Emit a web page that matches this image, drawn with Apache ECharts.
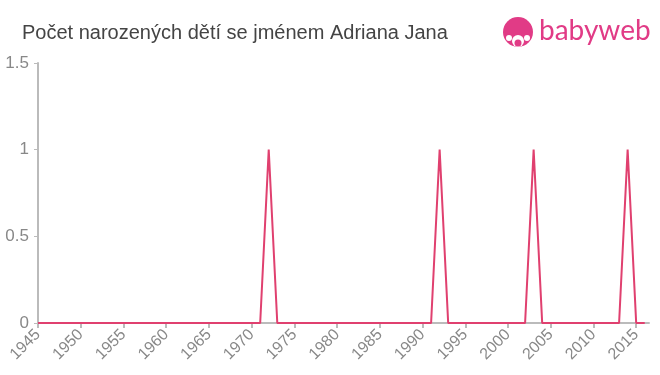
<!DOCTYPE html>
<html>
<head>
<meta charset="utf-8">
<script src="https://cdn.jsdelivr.net/npm/echarts@6/dist/echarts.min.js"></script>
<style>html,body{margin:0;padding:0;background:#fff}#c{width:660px;height:375px}</style>
</head>
<body>
<div id="c"></div>
<script>
const titleText = 'Počet narozených dětí se jménem Adriana Jana';
const years = [];
for (let y = 1945; y <= 2016; y++) years.push(y);
const peakYears = [1972, 1992, 2003, 2014];
const peakValues = [1, 1, 1, 1];
const counts = years.map(y => { const i = peakYears.indexOf(y); return i >= 0 ? peakValues[i] : 0; });
const yTicks = [0, 0.5, 1, 1.5];

const chart = echarts.init(document.getElementById('c'), null, {renderer: 'canvas'});
chart.setOption({
  animation: false,
  title: {
    text: titleText, left: 17, top: 18,
    textStyle: {fontFamily: 'Liberation Sans, Arial, sans-serif', fontSize: 20, fontWeight: 'normal', color: '#444'}
  },
  grid: {left: 38, right: 11, top: 63, bottom: 52, containLabel: false},
  xAxis: {
    type: 'value', min: 1945, max: 2016.5, interval: 5,
    axisLine: {lineStyle: {color: '#bbb', width: 2}},
    axisTick: {show: true, length: 5, lineStyle: {color: '#bbb', width: 2}},
    splitLine: {show: false},
    axisLabel: {
      rotate: 45, color: '#888', fontSize: 16, margin: 9, showMaxLabel: false,
      fontFamily: 'Liberation Sans, Arial, sans-serif',
      formatter: v => String(v)
    }
  },
  yAxis: {
    type: 'value', min: 0, max: 1.5, interval: 0.5,
    axisLine: {show: true, lineStyle: {color: '#bbb', width: 2}},
    axisTick: {show: true, length: 4, lineStyle: {color: '#bbb', width: 1}},
    splitLine: {show: false},
    axisLabel: {
      color: '#888', fontSize: 17, margin: 9,
      fontFamily: 'Liberation Sans, Arial, sans-serif',
      formatter: v => yTicks.includes(v) ? String(v) : ''
    }
  },
  series: [{
    type: 'line', data: years.map((y, i) => [y, counts[i]]),
    showSymbol: false, symbol: 'none',
    lineStyle: {color: '#e0406f', width: 2}
  }],
  graphic: [
    {type: 'circle', shape: {cx: 518, cy: 32, r: 15}, style: {fill: '#e13b86'}},
    {type: 'circle', shape: {cx: 518, cy: 41, r: 6}, style: {fill: '#fff'}},
    {type: 'circle', shape: {cx: 509, cy: 38, r: 3}, style: {fill: '#fff'}},
    {type: 'circle', shape: {cx: 527, cy: 38, r: 3}, style: {fill: '#fff'}},
    {type: 'circle', shape: {cx: 518, cy: 43, r: 3.5}, style: {fill: '#e13b86'}},
    {type: 'text', left: 539, top: 17, style: {text: 'babyweb', fill: '#e13b86', fontSize: 28, fontFamily: 'Lato, Noto Sans, sans-serif', fontWeight: 'normal'}}
  ]
});
</script>
</body>
</html>
